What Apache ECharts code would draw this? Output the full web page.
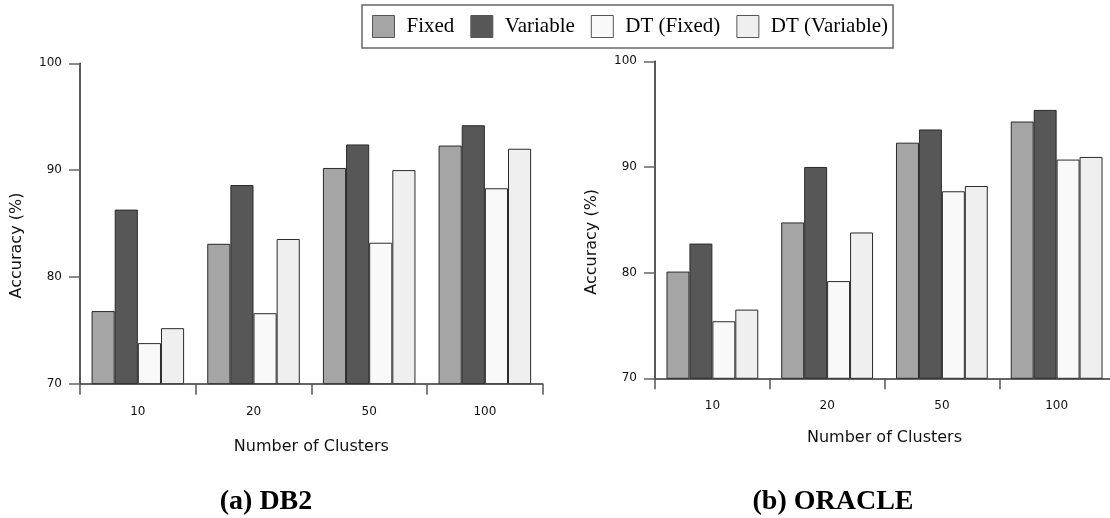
<!DOCTYPE html>
<html>
<head>
<meta charset="utf-8">
<script src="https://cdn.jsdelivr.net/npm/echarts@6/dist/echarts.min.js"></script>
<style>html,body{margin:0;padding:0;background:#fff}#c{width:1110px;height:518px}</style>
</head>
<body>
<div id="c"></div>
<script>
const categories = ['10', '20', '50', '100'];
const seriesNames = ['Fixed', 'Variable', 'DT (Fixed)', 'DT (Variable)'];
const db2Fixed = [76.8, 83.1, 90.2, 92.3];
const db2Variable = [86.3, 88.6, 92.4, 94.2];
const db2DTFixed = [73.8, 76.6, 83.2, 88.3];
const db2DTVariable = [75.2, 83.55, 90.0, 92.0];
const oraFixed = [80.1, 84.75, 92.3, 94.3];
const oraVariable = [82.75, 90.0, 93.55, 95.4];
const oraDTFixed = [75.4, 79.2, 87.7, 90.7];
const oraDTVariable = [76.5, 83.8, 88.2, 90.95];
const yTicks = [70, 80, 90, 100];
const panelTitles = ['(a) DB2', '(b) ORACLE'];
const xName = 'Number of Clusters';
const yName = 'Accuracy (%)';

const colors = ['#a5a5a5', '#575757', '#f9f9f9', '#efefef'];
const sans = 'DejaVu Sans';
const serif = 'Liberation Serif';

const db2 = [db2Fixed, db2Variable, db2DTFixed, db2DTVariable];
const ora = [oraFixed, oraVariable, oraDTFixed, oraDTVariable];

function xAxis(gi, gap) {
  return {
    type: 'category', gridIndex: gi, data: categories,
    name: xName, nameLocation: 'middle', nameGap: gap,
    nameTextStyle: {fontFamily: sans, fontSize: 16, color: '#111'},
    axisLine: {show: true, lineStyle: {color: '#333', width: 1.5}},
    axisTick: {show: true, alignWithLabel: false, interval: 0, length: 11, lineStyle: {color: '#555', width: 1.5}},
    axisLabel: {fontFamily: sans, fontSize: 12, color: '#111', margin: 22}
  };
}
function yAxis(gi) {
  return {
    type: 'value', gridIndex: gi, min: yTicks[0], max: yTicks[yTicks.length - 1], interval: 10,
    name: yName, nameLocation: 'middle', nameGap: 55,
    nameTextStyle: {fontFamily: sans, fontSize: 16, color: '#111', padding: [0, 44, 0, 0]},
    axisLine: {show: true, lineStyle: {color: '#222', width: 1.5}},
    axisTick: {show: true, length: 11, lineStyle: {color: '#666', width: 1.5}},
    axisLabel: {fontFamily: sans, fontSize: 12, color: '#111', margin: 18},
    splitLine: {show: false}
  };
}
const series = [];
[db2, ora].forEach((set, gi) => {
  set.forEach((vals, i) => {
    series.push({
      type: 'bar', name: seriesNames[i], xAxisIndex: gi, yAxisIndex: gi,
      data: vals, barGap: '0%', barCategoryGap: '20%',
      itemStyle: {color: colors[i], borderColor: '#2a2a2a', borderWidth: 1},
      emphasis: {disabled: true}
    });
  });
});

const chart = echarts.init(document.getElementById('c'), null, {renderer: 'canvas'});
chart.setOption({
  animation: false,
  backgroundColor: '#fff',
  title: [
    {text: panelTitles[0], left: 266, top: 488, textAlign: 'center', padding: 0,
     textStyle: {fontFamily: serif, fontSize: 28, fontWeight: 'bold', color: '#000'}},
    {text: panelTitles[1], left: 833, top: 488, textAlign: 'center', padding: 0,
     textStyle: {fontFamily: serif, fontSize: 28, fontWeight: 'bold', color: '#000'}}
  ],
  legend: {
    data: seriesNames, left: 362, top: 5, icon: 'rect',
    itemWidth: 22, itemHeight: 22, itemGap: 16,
    padding: [10, 5, 10, 10],
    borderColor: '#666', borderWidth: 1.5,
    itemStyle: {borderColor: '#555', borderWidth: 1},
    textStyle: {fontFamily: serif, fontSize: 21, color: '#000', padding: [0, 0, 0, 7]}
  },
  grid: [
    {left: 80, top: 63.3, width: 462.7, height: 320.4, outerBoundsMode: 'none'},
    {left: 655, top: 61.3, width: 459, height: 317, outerBoundsMode: 'none'}
  ],
  xAxis: [xAxis(0, 55), xAxis(1, 52)],
  yAxis: [yAxis(0), yAxis(1)],
  series: series
});
</script>
</body>
</html>
